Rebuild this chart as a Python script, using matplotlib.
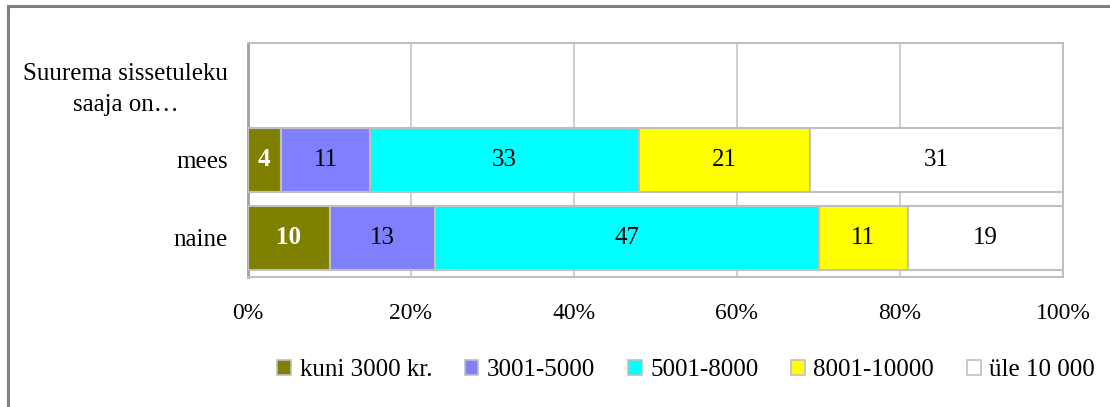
import matplotlib
matplotlib.use("Agg")
import matplotlib.pyplot as plt
from matplotlib.patches import Patch
from matplotlib.lines import Line2D

categories = ["Suurema sissetuleku\nsaaja on…", "mees", "naine"]
series_names = ["kuni 3000 kr.", "3001-5000", "5001-8000", "8001-10000", "üle 10 000"]
mees = [4, 11, 33, 21, 31]
naine = [10, 13, 47, 11, 19]
colors = ["#808000", "#8080FF", "#00FFFF", "#FFFF00", "#FFFFFF"]
xticks = [0, 20, 40, 60, 80, 100]
xticklabels = ["0%", "20%", "40%", "60%", "80%", "100%"]

plt.rcParams['font.family'] = ['Liberation Serif', 'DejaVu Serif']
FS = 18

fig = plt.figure(figsize=(11.10, 4.07), dpi=100)
ax = fig.add_axes([248/1110, 1-277/407, (1063-248)/1110, (277-43)/407])

rows = {1: mees, 2: naine}
for yi, vals in rows.items():
    left = 0
    for j, v in enumerate(vals):
        ax.barh(yi, v, left=left, height=0.82, color=colors[j],
                edgecolor="#C0C0C0", linewidth=1.5, zorder=3)
        if j == 0:
            ax.text(left + v/2, yi, str(v), ha='center', va='center',
                    color='white', fontweight='bold', fontsize=FS, zorder=4)
        else:
            ax.text(left + v/2, yi, str(v), ha='center', va='center',
                    color='black', fontsize=FS, zorder=4)
        left += v

ax.set_xlim(0, 100)
ax.set_ylim(2.5, -0.5)
ax.set_yticks(range(len(categories)))
ax.set_yticklabels(categories, fontsize=FS, multialignment='center')
for lbl in ax.get_yticklabels():
    lbl.set_linespacing(1.55)
ax.set_xticks(xticks)
ax.set_xticklabels(xticklabels, fontsize=17)
ax.tick_params(axis='both', length=0)
ax.tick_params(axis='y', pad=14.5)
ax.tick_params(axis='x', pad=19)
ax.xaxis.grid(True, color="#C8C8C8", linewidth=1.2, zorder=0)
ax.set_axisbelow(True)
for s in ax.spines.values():
    s.set_color("#C0C0C0")
    s.set_linewidth(1.5)
ax.spines['left'].set_color("#A0A0A0")
ax.spines['left'].set_linewidth(2)

handles = [Patch(facecolor=c, edgecolor="#C0C0C0", linewidth=1.2) for c in colors]
fig.legend(handles, series_names, loc='center', bbox_to_anchor=(686/1110, 1-370/407),
           ncol=5, frameon=False, fontsize=FS, handlelength=0.55, handleheight=0.55,
           handletextpad=0.35, columnspacing=1.3)

fig.add_artist(Line2D([7.5/1110, 1], [1-5.5/407, 1-5.5/407], color="#808080", linewidth=2.2,
                      transform=fig.transFigure))
fig.add_artist(Line2D([7.5/1110, 7.5/1110], [0, 1-5.5/407], color="#808080", linewidth=2.2,
                      transform=fig.transFigure))

fig.savefig("out.png", dpi=100, facecolor='white')
